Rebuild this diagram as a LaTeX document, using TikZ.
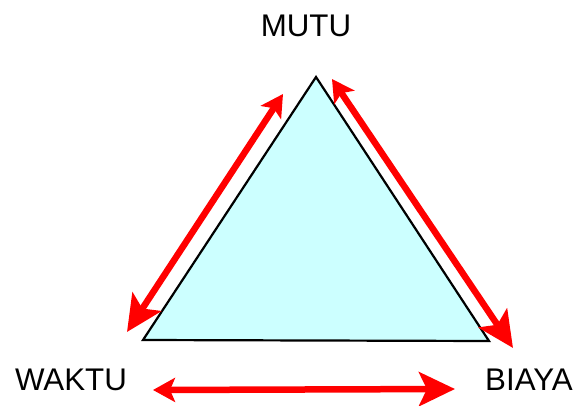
\documentclass[tikz,border=0pt]{standalone}
\usepackage{fontspec}
\setmainfont{Liberation Sans}
\usetikzlibrary{arrows.meta}
\definecolor{tri}{HTML}{CCFFFF}
\begin{document}
\begin{tikzpicture}[x=1pt,y=1pt,
  lbl/.style={font=\fontsize{31.3}{36}\selectfont, inner sep=0pt, anchor=center},
  redarrow/.style={draw=red, line width=6.5pt,
    {Stealth[length=22pt,width=24pt,inset=5pt]}-{Stealth[length=36pt,width=34pt,inset=8pt]}}]
\useasboundingbox (0,0) rectangle (578,405);
% triangle corners
\coordinate (A) at (316,328);
\coordinate (B) at (143,65);
\coordinate (C) at (489,64);
\fill[tri] (A) -- (B) -- (C) -- cycle;
\draw[line width=2.2pt, line join=miter] (A) -- (B) -- (C) -- cycle;
% arrow ends
\coordinate (l1) at (283,311);
\coordinate (l2) at (127,73);
\coordinate (r1) at (332,326);
\coordinate (r2) at (513,57);
\coordinate (b1) at (153,15);
\coordinate (b2) at (455,16);
\draw[redarrow] (l1) -- (l2);
\draw[redarrow] (r1) -- (r2);
\draw[redarrow] (b1) -- (b2);
% labels
\node[lbl] (mutu) at (306,379) {MUTU};
\node[lbl] (waktu) at (71,25) {WAKTU};
\node[lbl] (biaya) at (529,25) {BIAYA};
\end{tikzpicture}
\end{document}
